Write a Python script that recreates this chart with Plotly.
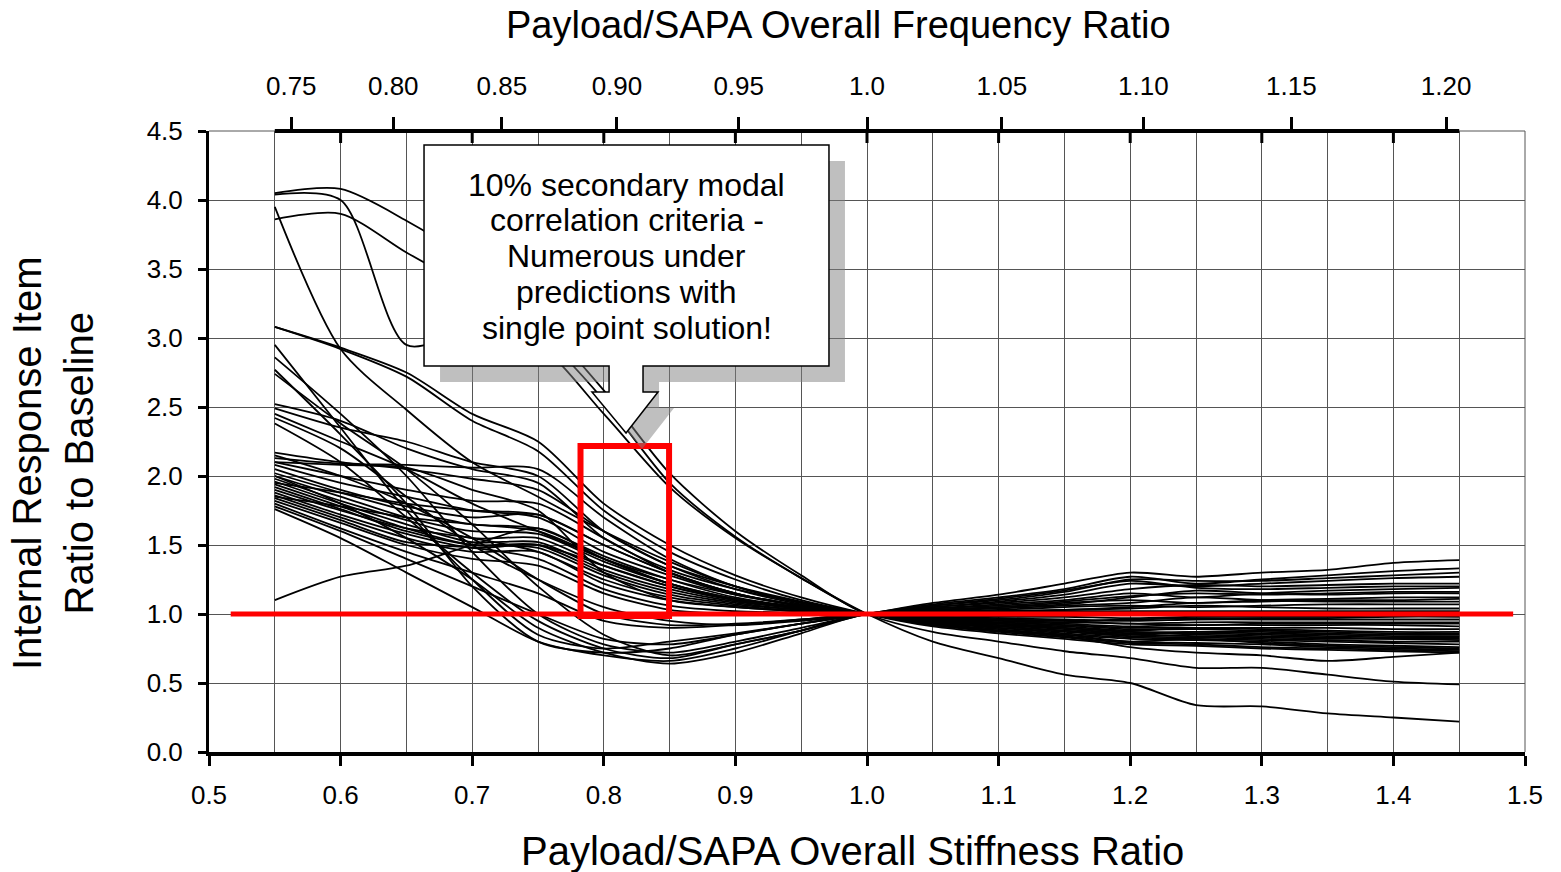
import plotly.graph_objects as go

# ---------------- data ----------------
stiffness_ratio = [0.55, 0.60, 0.65, 0.70, 0.75, 0.80, 0.85, 0.90, 0.95, 1.00,
                   1.05, 1.10, 1.15, 1.20, 1.25, 1.30, 1.35, 1.40, 1.45]

s01 = [4.05, 4.08, 3.85, 3.55, 3.15, 2.62, 2.02, 1.60, 1.28, 1.00, 0.99, 0.98, 0.98, 0.97, 0.98, 0.98, 0.98, 0.99, 0.99]
s02 = [3.86, 3.90, 3.62, 3.35, 3.05, 2.55, 1.95, 1.56, 1.26, 1.00, 0.87, 0.80, 0.73, 0.68, 0.61, 0.61, 0.56, 0.51, 0.49]
s03 = [4.04, 4.00, 2.95, 3.05, 2.95, 2.45, 1.92, 1.55, 1.26, 1.00, 0.80, 0.68, 0.56, 0.50, 0.34, 0.33, 0.28, 0.25, 0.22]
s04 = [3.95, 2.92, 2.48, 2.10, 1.85, 1.60, 1.38, 1.20, 1.08, 1.00, 0.93, 0.88, 0.84, 0.76, 0.72, 0.70, 0.66, 0.69, 0.72]
s05 = [3.08, 2.93, 2.75, 2.45, 2.25, 1.80, 1.50, 1.28, 1.12, 1.00, 0.91, 0.86, 0.82, 0.78, 0.77, 0.75, 0.74, 0.73, 0.72]
s06 = [3.08, 2.92, 2.72, 2.40, 2.18, 1.75, 1.45, 1.25, 1.10, 1.00, 0.92, 0.87, 0.83, 0.79, 0.78, 0.76, 0.75, 0.74, 0.73]
s07 = [2.95, 2.35, 1.75, 1.25, 0.85, 0.75, 0.80, 0.86, 0.93, 1.00, 1.08, 1.14, 1.22, 1.30, 1.27, 1.30, 1.32, 1.37, 1.39]
s08 = [2.86, 2.45, 2.00, 1.45, 1.00, 0.78, 0.72, 0.80, 0.90, 1.00, 1.07, 1.12, 1.18, 1.27, 1.22, 1.25, 1.28, 1.31, 1.33]
s09 = [2.77, 2.30, 1.80, 1.20, 0.80, 0.72, 0.75, 0.85, 0.93, 1.00, 1.06, 1.10, 1.16, 1.25, 1.24, 1.24, 1.26, 1.28, 1.30]
s10 = [2.74, 2.38, 2.05, 1.65, 1.20, 0.85, 0.70, 0.78, 0.88, 1.00, 1.05, 1.09, 1.14, 1.22, 1.20, 1.22, 1.24, 1.26, 1.27]
s11 = [2.52, 2.40, 2.20, 2.05, 1.95, 1.55, 1.32, 1.18, 1.08, 1.00, 0.92, 0.88, 0.84, 0.80, 0.79, 0.78, 0.76, 0.75, 0.74]
s12 = [2.49, 2.35, 2.25, 2.10, 2.00, 1.60, 1.35, 1.20, 1.09, 1.00, 0.93, 0.88, 0.85, 0.80, 0.82, 0.79, 0.77, 0.76, 0.75]
s13 = [2.45, 2.25, 2.05, 1.80, 1.60, 1.40, 1.25, 1.14, 1.06, 1.00, 1.05, 1.08, 1.12, 1.18, 1.21, 1.20, 1.21, 1.22, 1.22]
s14 = [2.42, 2.20, 1.85, 1.50, 1.25, 1.05, 0.95, 0.92, 0.95, 1.00, 1.04, 1.07, 1.10, 1.15, 1.12, 1.15, 1.17, 1.18, 1.19]
s15 = [2.38, 2.10, 1.70, 1.30, 0.95, 0.75, 0.68, 0.78, 0.88, 1.00, 0.93, 0.89, 0.85, 0.82, 0.81, 0.80, 0.78, 0.77, 0.76]
s16 = [1.10, 1.27, 1.35, 1.50, 1.62, 1.40, 1.22, 1.10, 1.04, 1.00, 1.04, 1.06, 1.09, 1.13, 1.15, 1.14, 1.15, 1.16, 1.16]
s17 = [2.17, 2.10, 2.05, 1.98, 1.90, 1.60, 1.35, 1.18, 1.07, 1.00, 0.94, 0.90, 0.86, 0.83, 0.82, 0.81, 0.80, 0.79, 0.78]
s18 = [2.13, 2.09, 2.08, 2.06, 2.05, 1.70, 1.40, 1.20, 1.08, 1.00, 1.03, 1.05, 1.08, 1.10, 1.08, 1.10, 1.11, 1.12, 1.12]
s19 = [2.10, 2.00, 1.90, 1.82, 1.80, 1.55, 1.30, 1.15, 1.06, 1.00, 0.94, 0.90, 0.87, 0.84, 0.83, 0.82, 0.81, 0.80, 0.80]
s20 = [2.08, 1.95, 1.85, 1.75, 1.70, 1.45, 1.28, 1.14, 1.06, 1.00, 1.03, 1.04, 1.06, 1.08, 1.12, 1.10, 1.09, 1.09, 1.09]
s21 = [2.05, 1.90, 1.78, 1.70, 1.72, 1.50, 1.30, 1.15, 1.06, 1.00, 0.95, 0.91, 0.88, 0.85, 0.84, 0.83, 0.82, 0.82, 0.81]
s22 = [2.02, 1.88, 1.75, 1.65, 1.62, 1.42, 1.25, 1.12, 1.05, 1.00, 1.02, 1.03, 1.05, 1.06, 1.05, 1.06, 1.07, 1.07, 1.07]
s23 = [2.00, 1.85, 1.70, 1.60, 1.58, 1.38, 1.22, 1.11, 1.05, 1.00, 0.95, 0.92, 0.89, 0.86, 0.86, 0.85, 0.84, 0.83, 0.83]
s24 = [1.98, 1.82, 1.68, 1.55, 1.55, 1.35, 1.20, 1.10, 1.04, 1.00, 1.02, 1.02, 1.03, 1.04, 1.06, 1.05, 1.04, 1.04, 1.04]
s25 = [1.96, 1.80, 1.65, 1.52, 1.52, 1.32, 1.18, 1.09, 1.04, 1.00, 0.96, 0.93, 0.90, 0.87, 0.87, 0.87, 0.86, 0.85, 0.85]
s26 = [1.94, 1.78, 1.62, 1.50, 1.50, 1.30, 1.16, 1.08, 1.03, 1.00, 1.01, 1.01, 1.02, 1.02, 1.02, 1.02, 1.02, 1.02, 1.02]
s27 = [1.92, 1.76, 1.60, 1.50, 1.48, 1.28, 1.14, 1.07, 1.03, 1.00, 0.96, 0.93, 0.91, 0.88, 0.90, 0.89, 0.88, 0.87, 0.87]
s28 = [1.90, 1.75, 1.62, 1.55, 1.45, 1.25, 1.12, 1.06, 1.02, 1.00, 1.03, 1.05, 1.07, 1.12, 1.17, 1.15, 1.14, 1.15, 1.15]
s29 = [1.88, 1.72, 1.58, 1.48, 1.50, 1.35, 1.20, 1.10, 1.04, 1.00, 0.97, 0.94, 0.92, 0.90, 0.90, 0.90, 0.90, 0.89, 0.89]
s30 = [1.86, 1.70, 1.55, 1.45, 1.45, 1.22, 1.10, 1.05, 1.02, 1.00, 1.06, 1.11, 1.17, 1.24, 1.19, 1.18, 1.19, 1.20, 1.20]
s31 = [1.84, 1.68, 1.52, 1.48, 1.40, 1.18, 1.06, 1.02, 1.01, 1.00, 0.97, 0.95, 0.93, 0.91, 0.92, 0.92, 0.92, 0.92, 0.91]
s32 = [1.82, 1.66, 1.50, 1.40, 1.35, 1.15, 1.03, 1.00, 1.00, 1.00, 1.01, 1.02, 1.03, 1.05, 1.08, 1.09, 1.10, 1.10, 1.11]
s33 = [1.80, 1.62, 1.45, 1.30, 1.15, 0.95, 0.90, 0.92, 0.96, 1.00, 0.98, 0.96, 0.95, 0.93, 0.94, 0.94, 0.94, 0.94, 0.94]
s34 = [1.78, 1.60, 1.40, 1.20, 1.00, 0.82, 0.78, 0.85, 0.93, 1.00, 0.98, 0.97, 0.96, 0.95, 0.96, 0.96, 0.96, 0.96, 0.96]
s35 = [1.76, 1.55, 1.30, 1.05, 0.80, 0.70, 0.66, 0.75, 0.88, 1.00, 0.99, 0.99, 1.00, 1.01, 0.99, 1.00, 1.00, 1.00, 1.00]
s36 = [2.00, 1.80, 1.55, 1.25, 0.90, 0.72, 0.64, 0.72, 0.86, 1.00, 0.97, 0.96, 0.95, 0.96, 0.97, 0.97, 0.97, 0.98, 0.98]
s37 = [2.10, 2.08, 2.06, 1.90, 1.75, 1.30, 1.10, 1.05, 1.02, 1.00, 0.96, 0.94, 0.92, 0.89, 0.89, 0.88, 0.87, 0.86, 0.86]
s38 = [1.95, 1.88, 1.80, 1.75, 1.72, 1.50, 1.30, 1.15, 1.06, 1.00, 0.95, 0.92, 0.90, 0.87, 0.85, 0.84, 0.83, 0.82, 0.82]
s39 = [1.85, 1.78, 1.70, 1.65, 1.60, 1.40, 1.22, 1.11, 1.05, 1.00, 0.94, 0.91, 0.88, 0.85, 0.87, 0.86, 0.85, 0.84, 0.84]
s40 = [2.15, 2.00, 1.80, 1.55, 1.25, 1.00, 0.92, 0.93, 0.96, 1.00, 0.97, 0.95, 0.94, 0.93, 0.92, 0.93, 0.93, 0.93, 0.93]

all_series = [s01, s02, s03, s04, s05, s06, s07, s08, s09, s10,
              s11, s12, s13, s14, s15, s16, s17, s18, s19, s20,
              s21, s22, s23, s24, s25, s26, s27, s28, s29, s30,
              s31, s32, s33, s34, s35, s36, s37, s38, s39, s40]

# secondary (frequency) axis
freq_tick_vals = [0.75, 0.80, 0.85, 0.90, 0.95, 1.00, 1.05, 1.10, 1.15, 1.20]
freq_tick_text = ["0.75", "0.80", "0.85", "0.90", "0.95", "1.0", "1.05", "1.10", "1.15", "1.20"]
top_down_ticks = [0.6, 0.7, 0.8, 0.9, 1.0, 1.1, 1.2, 1.3, 1.4]

# reference / criteria markers
baseline_ratio = 1.0
baseline_x = [0.5165, 1.491]
criteria_x = [0.7823, 0.8496]
criteria_y = [0.985, 2.217]

# callout geometry (data units)
box_x = [0.6634, 0.9711]
box_y = [2.797, 4.399]
shaft_x = [0.8040, 0.8298]
head_x = [0.7910, 0.8412]
head_y = 2.609
tip = [0.8169, 2.312]
shadow_dx, shadow_dy = 0.01216, -0.116
callout_lines = ["10% secondary modal", "correlation criteria -", "Numerous under",
                 "predictions with", "single point solution!"]
callout_line_y = [4.109, 3.855, 3.594, 3.333, 3.072]
callout_x = 0.8176

FONT = "Liberation Sans, Arial, sans-serif"
GRID = "#555555"

fig = go.Figure()
for s in all_series:
    fig.add_trace(go.Scatter(x=stiffness_ratio, y=s, mode="lines",
                             line=dict(color="black", width=1.8, shape="spline", smoothing=0.8),
                             showlegend=False, hoverinfo="skip"))
# invisible trace to activate the top axis
fig.add_trace(go.Scatter(x=[1.0], y=[1.0], xaxis="x2", mode="markers",
                         marker=dict(opacity=0), showlegend=False, hoverinfo="skip"))


def callout_path(dx=0.0, dy=0.0):
    pts = [(box_x[0], box_y[1]), (box_x[1], box_y[1]), (box_x[1], box_y[0]),
           (shaft_x[1], box_y[0]), (shaft_x[1], head_y), (head_x[1], head_y),
           (tip[0], tip[1]), (head_x[0], head_y), (shaft_x[0], head_y),
           (shaft_x[0], box_y[0]), (box_x[0], box_y[0])]
    return "M " + " L ".join(f"{x + dx},{y + dy}" for x, y in pts) + " Z"


shapes = []
# thin frame at right and top edges
shapes.append(dict(type="line", xref="paper", yref="paper", x0=1, x1=1, y0=0, y1=1,
                   line=dict(color=GRID, width=1), layer="below"))
shapes.append(dict(type="line", xref="paper", yref="paper", x0=0, x1=1, y0=1, y1=1,
                   line=dict(color=GRID, width=1), layer="below"))
# red baseline and criteria rectangle
shapes.append(dict(type="line", xref="x", yref="y", x0=baseline_x[0], x1=baseline_x[1],
                   y0=baseline_ratio, y1=baseline_ratio, line=dict(color="#ff0000", width=5)))
shapes.append(dict(type="rect", xref="x", yref="y", x0=criteria_x[0], x1=criteria_x[1],
                   y0=criteria_y[0], y1=criteria_y[1], line=dict(color="#ff0000", width=6)))
# callout shadow and box
shapes.append(dict(type="path", xref="x", yref="y", path=callout_path(shadow_dx, shadow_dy),
                   fillcolor="rgba(128,128,128,0.5)", line=dict(width=0)))
shapes.append(dict(type="path", xref="x", yref="y", path=callout_path(),
                   fillcolor="white", line=dict(color="black", width=1.5)))
# top (frequency) axis line and downward ticks
shapes.append(dict(type="line", xref="x", yref="paper", x0=stiffness_ratio[0], x1=stiffness_ratio[-1],
                   y0=1, y1=1, line=dict(color="black", width=4)))
for v in top_down_ticks:
    shapes.append(dict(type="line", xref="x", yref="paper", x0=v, x1=v, y0=1, y1=1 - 12 / 621,
                       line=dict(color="black", width=3)))

annotations = []
for txt, yy in zip(callout_lines, callout_line_y):
    annotations.append(dict(x=callout_x, y=yy, xref="x", yref="y", text=txt, showarrow=False,
                            xanchor="center", yanchor="middle",
                            font=dict(family=FONT, size=32, color="black")))
annotations.append(dict(x=0.489, y=-0.1594, xref="paper", yref="paper",
                        text="Payload/SAPA Overall Stiffness Ratio", showarrow=False,
                        xanchor="center", yanchor="middle", font=dict(family=FONT, size=40, color="black")))
annotations.append(dict(x=0.478, y=1.1707, xref="paper", yref="paper",
                        text="Payload/SAPA Overall Frequency Ratio", showarrow=False,
                        xanchor="center", yanchor="middle", font=dict(family=FONT, size=38, color="black")))
annotations.append(dict(x=-0.1185, y=0.4654, xref="paper", yref="paper",
                        text="Internal Response Item<br>Ratio to Baseline", showarrow=False, textangle=-90,
                        xanchor="center", yanchor="middle", font=dict(family=FONT, size=40, color="black")))

fig.update_layout(
    width=1561, height=872,
    margin=dict(l=209, r=36, t=131, b=120, pad=0),
    paper_bgcolor="white", plot_bgcolor="white",
    font=dict(family=FONT, color="black"),
    showlegend=False,
    shapes=shapes, annotations=annotations,
    xaxis=dict(range=[0.5, 1.5], tick0=0.5, dtick=0.1, tickformat=".1f",
               ticks="outside", ticklen=10, tickwidth=3, tickcolor="black",
               showline=True, linewidth=4, linecolor="black",
               showgrid=True, gridcolor=GRID, gridwidth=1, zeroline=False,
               minor=dict(tick0=0.5, dtick=0.05, showgrid=True, gridcolor=GRID, gridwidth=1, ticks=""),
               tickfont=dict(family=FONT, size=26, color="black"), ticklabelstandoff=7),
    xaxis2=dict(range=[0.5, 1.5], overlaying="x", side="top", anchor="y",
                tickmode="array", tickvals=[f * f for f in freq_tick_vals], ticktext=freq_tick_text,
                ticks="outside", ticklen=13, tickwidth=3, tickcolor="black",
                showline=False, showgrid=False, zeroline=False,
                tickfont=dict(family=FONT, size=26, color="black"), ticklabelstandoff=12),
    yaxis=dict(range=[0, 4.5], tick0=0, dtick=0.5, tickformat=".1f",
               ticks="outside", ticklen=8, tickwidth=3, tickcolor="black",
               showline=True, linewidth=3, linecolor="black",
               showgrid=True, gridcolor=GRID, gridwidth=1, zeroline=False,
               tickfont=dict(family=FONT, size=26, color="black"), ticklabelstandoff=10),
)

fig.write_html("out.html", config={"displayModeBar": False},
               post_script="document.body.style.margin='0';document.body.style.overflow='hidden';")
